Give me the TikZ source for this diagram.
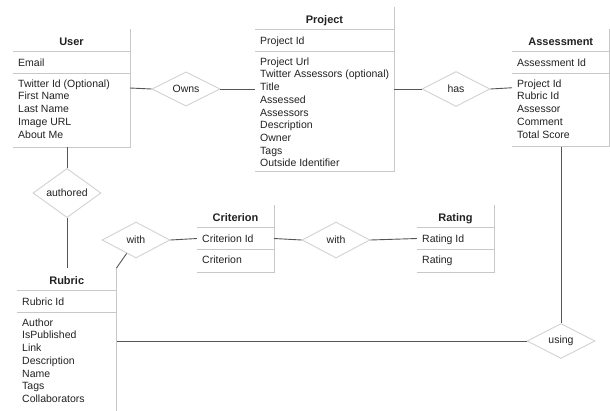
\documentclass[tikz,border=0pt]{standalone}
\usepackage{fontspec}
\setmainfont{Liberation Sans}
\usetikzlibrary{shapes.geometric}

\definecolor{ink}{HTML}{222222}
\definecolor{wire}{HTML}{555555}
\definecolor{rulegray}{HTML}{C8C8C8}
\definecolor{edgegray}{HTML}{D2D2D2}

\newcommand{\attrfont}{\fontsize{10.5}{12.7}\selectfont}
\newcommand{\titlefont}{\fontsize{11}{13}\selectfont\bfseries}

\tikzset{
  entity/.style={anchor=north west, inner sep=0pt, outer sep=0pt},
  boxline/.style={draw=rulegray, line width=0.9pt},
  titletext/.style={inner sep=0pt, font=\titlefont, text=ink},
  attrtext/.style={inner sep=0pt, font=\attrfont, text=ink},
  relation/.style={diamond, draw=edgegray, fill=white, line width=0.9pt,
    minimum width=68pt, minimum height=35pt, inner sep=0pt,
    font=\attrfont, text=ink},
  wireline/.style={draw=wire, line width=0.9pt},
}

% \erentity{name}{left}{top}{width}{height}{title}{key}{attributes}
\newcommand{\erentity}[8]{%
  \node[entity, minimum width=#4pt, minimum height=#5pt] (#1) at (#2,#3) {};
  \draw[boxline] (#1.north east) -- (#1.south east) -- (#1.south west);
  \draw[boxline] ([yshift=-22.5pt]#1.north west) -- ([yshift=-22.5pt]#1.north east);
  \draw[boxline] ([yshift=-44pt]#1.north west) -- ([yshift=-44pt]#1.north east);
  \node[anchor=base, titletext] (#1-title) at ([yshift=-16.5pt]#1.north) {#6};
  \node[anchor=base west, attrtext] (#1-key) at ([xshift=5pt,yshift=-37.5pt]#1.north west) {#7};
  \node[anchor=north west, attrtext, align=left] (#1-attrs) at ([xshift=5pt,yshift=-50pt]#1.north west) {\rule{0pt}{8pt}#8};
}

\begin{document}
\begin{tikzpicture}[x=1pt, y=-1pt]
  \clip (0,0) rectangle (610,410);
  \fill[white] (0,0) rectangle (610,410);

  % entities
  \erentity{user}{13}{29}{117}{118}{User}{Email}%
    {Twitter Id (Optional)\\First Name\\Last Name\\Image URL\\About Me}
  \erentity{project}{255}{7}{139}{164}{Project}{Project Id}%
    {Project Url\\Twitter Assessors (optional)\\Title\\Assessed\\Assessors\\Description\\Owner\\Tags\\Outside Identifier}
  \erentity{assess}{512}{29}{97.5}{117.5}{Assessment}{Assessment Id}%
    {Project Id\\Rubric Id\\Assessor\\Comment\\Total Score}
  \erentity{criterion}{197}{205}{77}{67}{Criterion}{Criterion Id}{Criterion}
  \erentity{rating}{417}{205}{77}{67}{Rating}{Rating Id}{Rating}
  \erentity{rubric}{17}{268}{99.5}{148}{Rubric}{Rubric Id}%
    {Author\\IsPublished\\Link\\Description\\Name\\Tags\\Collaborators}

  % relationships
  \node[relation, minimum height=34pt] (owns) at (186,89) {Owns};
  \node[relation] (has) at (456,89) {has};
  \node[relation, minimum height=33pt] (authored) at (67,193) {authored};
  \node[relation, minimum height=36pt] (with1) at (136,240) {with};
  \node[relation, minimum height=36pt] (with2) at (336,240) {with};
  \node[relation, minimum height=34pt] (using) at (561,341) {using};

  % connectors
  \draw[wireline] (user.east) -- (owns.west);
  \draw[wireline] (owns.east) -- (project.west);
  \draw[wireline] (project.east) -- (has.west);
  \draw[wireline] (has.east) -- (assess.west);
  \draw[wireline] (authored.north |- user.south) -- (authored.north);
  \draw[wireline] (authored.south) -- (authored.south |- rubric.north);
  \draw[wireline] (with1.east) -- (criterion.west);
  \draw[wireline] (criterion.east) -- (with2.west);
  \draw[wireline] (with2.east) -- (rating.west);
  \draw[wireline] (rubric.north east) -- (with1);
  \draw[wireline] (assess.south -| using.north) -- (using.north);
  \draw[wireline] (using.west -| rubric.east) -- (using.west);
\end{tikzpicture}
\end{document}
